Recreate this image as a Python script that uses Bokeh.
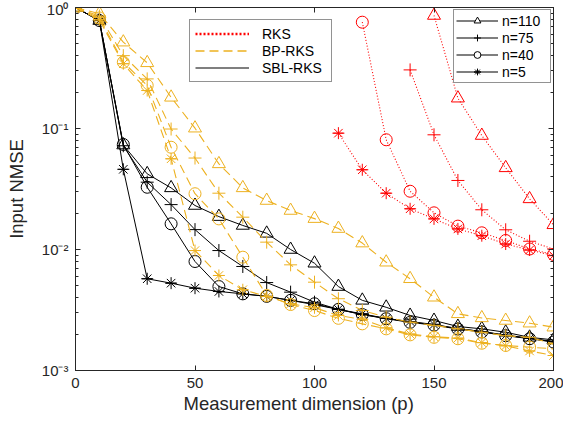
import math
from bokeh.plotting import figure
from bokeh.models import (FixedTicker, LinearAxis, LogAxis, Legend, LegendItem, Title,
                          CustomJSTickFormatter, Range1d)
from bokeh.embed import file_html
from bokeh.resources import INLINE

# ---------------- data ----------------
p_dim = [0, 10, 20, 30, 40, 50, 60, 70, 80, 90, 100, 110, 120, 130, 140, 150, 160, 170, 180, 190, 200]

sbl_n110 = [1.0, 0.78, 0.073, 0.0422, 0.0323, 0.0231, 0.0187, 0.0158, 0.0136, 0.0100, 0.0077,
            0.00494, 0.0038, 0.00333, 0.00285, 0.00259, 0.00231, 0.00221, 0.00207, 0.00188, 0.00179]
sbl_n75 = [1.0, 0.78, 0.072, 0.036, 0.0235, 0.0146, 0.0098, 0.00724, 0.00533, 0.00444, 0.00367,
           0.0032, 0.0029, 0.0027, 0.00252, 0.00238, 0.00222, 0.0021, 0.00196, 0.00185, 0.00172]
sbl_n40 = [1.0, 0.78, 0.0738, 0.0327, 0.0163, 0.00796, 0.00494, 0.0043, 0.0041, 0.0038, 0.00356,
           0.0032, 0.0029, 0.00268, 0.0025, 0.00237, 0.0022, 0.00208, 0.00194, 0.00183, 0.00172]
sbl_n5 = [1.0, 0.78, 0.046, 0.00573, 0.00527, 0.00479, 0.0045, 0.0043, 0.0041, 0.0038, 0.0035,
          0.0032, 0.00294, 0.00269, 0.00254, 0.0024, 0.00222, 0.0021, 0.00195, 0.00184, 0.00174]

bp_n110 = [1.0, 0.89, 0.517, 0.349, 0.181, 0.1006, 0.051, 0.0323, 0.0254, 0.021, 0.018,
           0.0149, 0.0113, 0.00785, 0.00573, 0.00403, 0.00294, 0.00272, 0.00259, 0.00246, 0.00228]
bp_n75 = [1.0, 0.85, 0.40, 0.257, 0.099, 0.057, 0.0292, 0.0185, 0.0115, 0.00747, 0.00537,
          0.00392, 0.00313, 0.00276, 0.00251, 0.00236, 0.00221, 0.00207, 0.00194, 0.00188, 0.00166]
bp_n40 = [1.0, 0.82, 0.353, 0.227, 0.070, 0.0289, 0.0179, 0.00864, 0.00417, 0.00351, 0.00313,
          0.0027, 0.00243, 0.00221, 0.00197, 0.00188, 0.00183, 0.00168, 0.00161, 0.00156, 0.00151]
bp_n5 = [1.0, 0.79, 0.343, 0.206, 0.0562, 0.0098, 0.0061, 0.00465, 0.0041, 0.00356, 0.0033,
         0.00285, 0.00265, 0.00225, 0.002, 0.0019, 0.00185, 0.0017, 0.0016, 0.00145, 0.00133]

rks_x_n110 = [150, 160, 170, 180, 190, 200]
rks_n110 = [0.859, 0.178, 0.0875, 0.0473, 0.0262, 0.016]
rks_x_n75 = [140, 150, 160, 170, 180, 190, 200]
rks_n75 = [0.305, 0.0887, 0.0372, 0.0213, 0.01455, 0.0117, 0.0101]
rks_x_n40 = [120, 130, 140, 150, 160, 170, 180, 190, 200]
rks_n40 = [0.756, 0.0807, 0.0303, 0.0201, 0.0156, 0.01374, 0.01187, 0.0101, 0.0091]
rks_x_n5 = [110, 120, 130, 140, 150, 160, 170, 180, 190, 200]
rks_n5 = [0.0915, 0.0456, 0.0292, 0.0217, 0.0179, 0.0148, 0.0130, 0.0111, 0.0099, 0.0089]

method_labels = ["RKS", "BP-RKS", "SBL-RKS"]
n_labels = ["n=110", "n=75", "n=40", "n=5"]
x_ticks = [0, 50, 100, 150, 200]
y_ticks = [1e-3, 1e-2, 1e-1, 1.0]
x_title = "Measurement dimension (p)"
y_title = "Input NMSE"

# ---------------- styles ----------------
RED = "#FF0000"
ORANGE = "#EDB120"
BLACK = "#000000"
AX = "#262626"
FONT = "Liberation Sans"

p = figure(width=563, height=428, y_axis_type="log",
           x_range=Range1d(0, 200), y_range=Range1d(1e-3, 1.0),
           output_backend="svg", toolbar_location=None,
           min_border_left=75, min_border_right=10, min_border_top=7, min_border_bottom=58)
p.xgrid.visible = False
p.ygrid.visible = False
p.outline_line_color = AX
p.background_fill_color = "white"

minor_y = [k * 10.0 ** e for e in (-3, -2, -1) for k in range(2, 10)]
yfmt = CustomJSTickFormatter(code="""
const e = Math.round(Math.log10(tick));
const sup = {'-':'\u207b','0':'\u2070','1':'\u00b9','2':'\u00b2','3':'\u00b3'};
return '10' + String(e).split('').map(c => sup[c]).join('');
""")
blankfmt = CustomJSTickFormatter(code="return '';")

def style_axis(ax):
    ax.axis_line_color = AX
    ax.major_tick_line_color = AX
    ax.minor_tick_line_color = AX
    ax.major_tick_in = 5
    ax.major_tick_out = 0
    ax.minor_tick_in = 3
    ax.minor_tick_out = 0
    ax.major_label_text_font = FONT
    ax.major_label_text_color = AX
    ax.major_label_text_font_size = "15px"

p.xaxis.ticker = FixedTicker(ticks=x_ticks, minor_ticks=[])
p.yaxis.ticker = FixedTicker(ticks=y_ticks, minor_ticks=minor_y)
p.yaxis.formatter = yfmt
style_axis(p.xaxis[0])
style_axis(p.yaxis[0])
p.xaxis.major_label_standoff = 7
p.yaxis.major_label_standoff = 7

p.yaxis.axis_label = y_title
p.yaxis.axis_label_text_font = FONT
p.yaxis.axis_label_text_font_size = "18.5px"
p.yaxis.axis_label_text_font_style = "normal"
p.yaxis.axis_label_text_color = AX
p.yaxis.axis_label_standoff = 12

top_ax = LinearAxis(ticker=FixedTicker(ticks=x_ticks, minor_ticks=[]), formatter=blankfmt)
style_axis(top_ax)
top_ax.major_label_standoff = 0
p.add_layout(top_ax, "above")
right_ax = LogAxis(ticker=FixedTicker(ticks=y_ticks, minor_ticks=minor_y), formatter=blankfmt)
style_axis(right_ax)
right_ax.major_label_standoff = 0
p.add_layout(right_ax, "right")

p.add_layout(Title(text=x_title, align="left", offset=108, standoff=0,
                   text_font=FONT, text_font_size="18.5px", text_font_style="normal",
                   text_color=AX), "below")

markers = [("triangle", 13), ("cross", 13), ("circle", 12), ("asterisk", 12)]

def draw_series(xs, ys, color, dash, width, mk):
    p.line(xs, ys, line_color=color, line_width=width, line_dash=dash)
    name, size = mk
    p.scatter(xs, ys, marker=name, size=size, line_color=color, fill_alpha=0, line_width=1)
    if name == "asterisk":
        p.scatter(xs, ys, marker="dash", size=size * 0.85, line_color=color, line_width=1)

for ys, mk in zip([sbl_n110, sbl_n75, sbl_n40, sbl_n5], markers):
    draw_series(p_dim, ys, BLACK, "solid", 1, mk)
for ys, mk in zip([bp_n110, bp_n75, bp_n40, bp_n5], markers):
    draw_series(p_dim, ys, ORANGE, "9 5", 1.1, mk)
for xs, ys, mk in zip([rks_x_n110, rks_x_n75, rks_x_n40, rks_x_n5],
                      [rks_n110, rks_n75, rks_n40, rks_n5], markers):
    draw_series(xs, ys, RED, "1 2", 1.1, mk)

# ---------------- legends (proxy renderers placed off-frame) ----------------
OFF_X = [-50]
OFF_Y = [0.01]
d_red = p.line(OFF_X, OFF_Y, line_color=RED, line_width=2.5, line_dash="2 2")
d_org = p.line(OFF_X, OFF_Y, line_color=ORANGE, line_width=1.3, line_dash="9 5")
d_blk = p.line(OFF_X, OFF_Y, line_color=BLACK, line_width=1.2)
leg1 = Legend(items=[LegendItem(label=method_labels[0], renderers=[d_red]),
                     LegendItem(label=method_labels[1], renderers=[d_org]),
                     LegendItem(label=method_labels[2], renderers=[d_blk])],
              location=(114, 288), orientation="vertical",
              label_text_font=FONT, label_text_font_size="14px", label_text_color=BLACK,
              glyph_width=54, glyph_height=17, label_height=17, label_width=64,
              label_standoff=13, spacing=0, padding=5, margin=0,
              border_line_color=AX, border_line_width=1, background_fill_alpha=1)
p.add_layout(leg1)

items2 = []
for lab, (name, size) in zip(n_labels, markers):
    rl = p.line(OFF_X, OFF_Y, line_color=BLACK, line_width=1.2)
    rs = p.scatter(OFF_X, OFF_Y, marker=name, size=size, line_color=BLACK, fill_color="white", line_width=1)
    rends = [rl, rs]
    if name == "asterisk":
        rends.append(p.scatter(OFF_X, OFF_Y, marker="dash", size=size * 0.85, line_color=BLACK, line_width=1))
    items2.append(LegendItem(label=lab, renderers=rends))
leg2 = Legend(items=items2, location="top_right", orientation="vertical",
              label_text_font=FONT, label_text_font_size="14px", label_text_color=BLACK,
              glyph_width=42, glyph_height=17, label_height=17, label_width=46,
              label_standoff=4, spacing=0, padding=2, margin=2,
              border_line_color=AX, border_line_width=1, background_fill_alpha=1)
p.add_layout(leg2)

open("out.html", "w").write(file_html(p, INLINE))
